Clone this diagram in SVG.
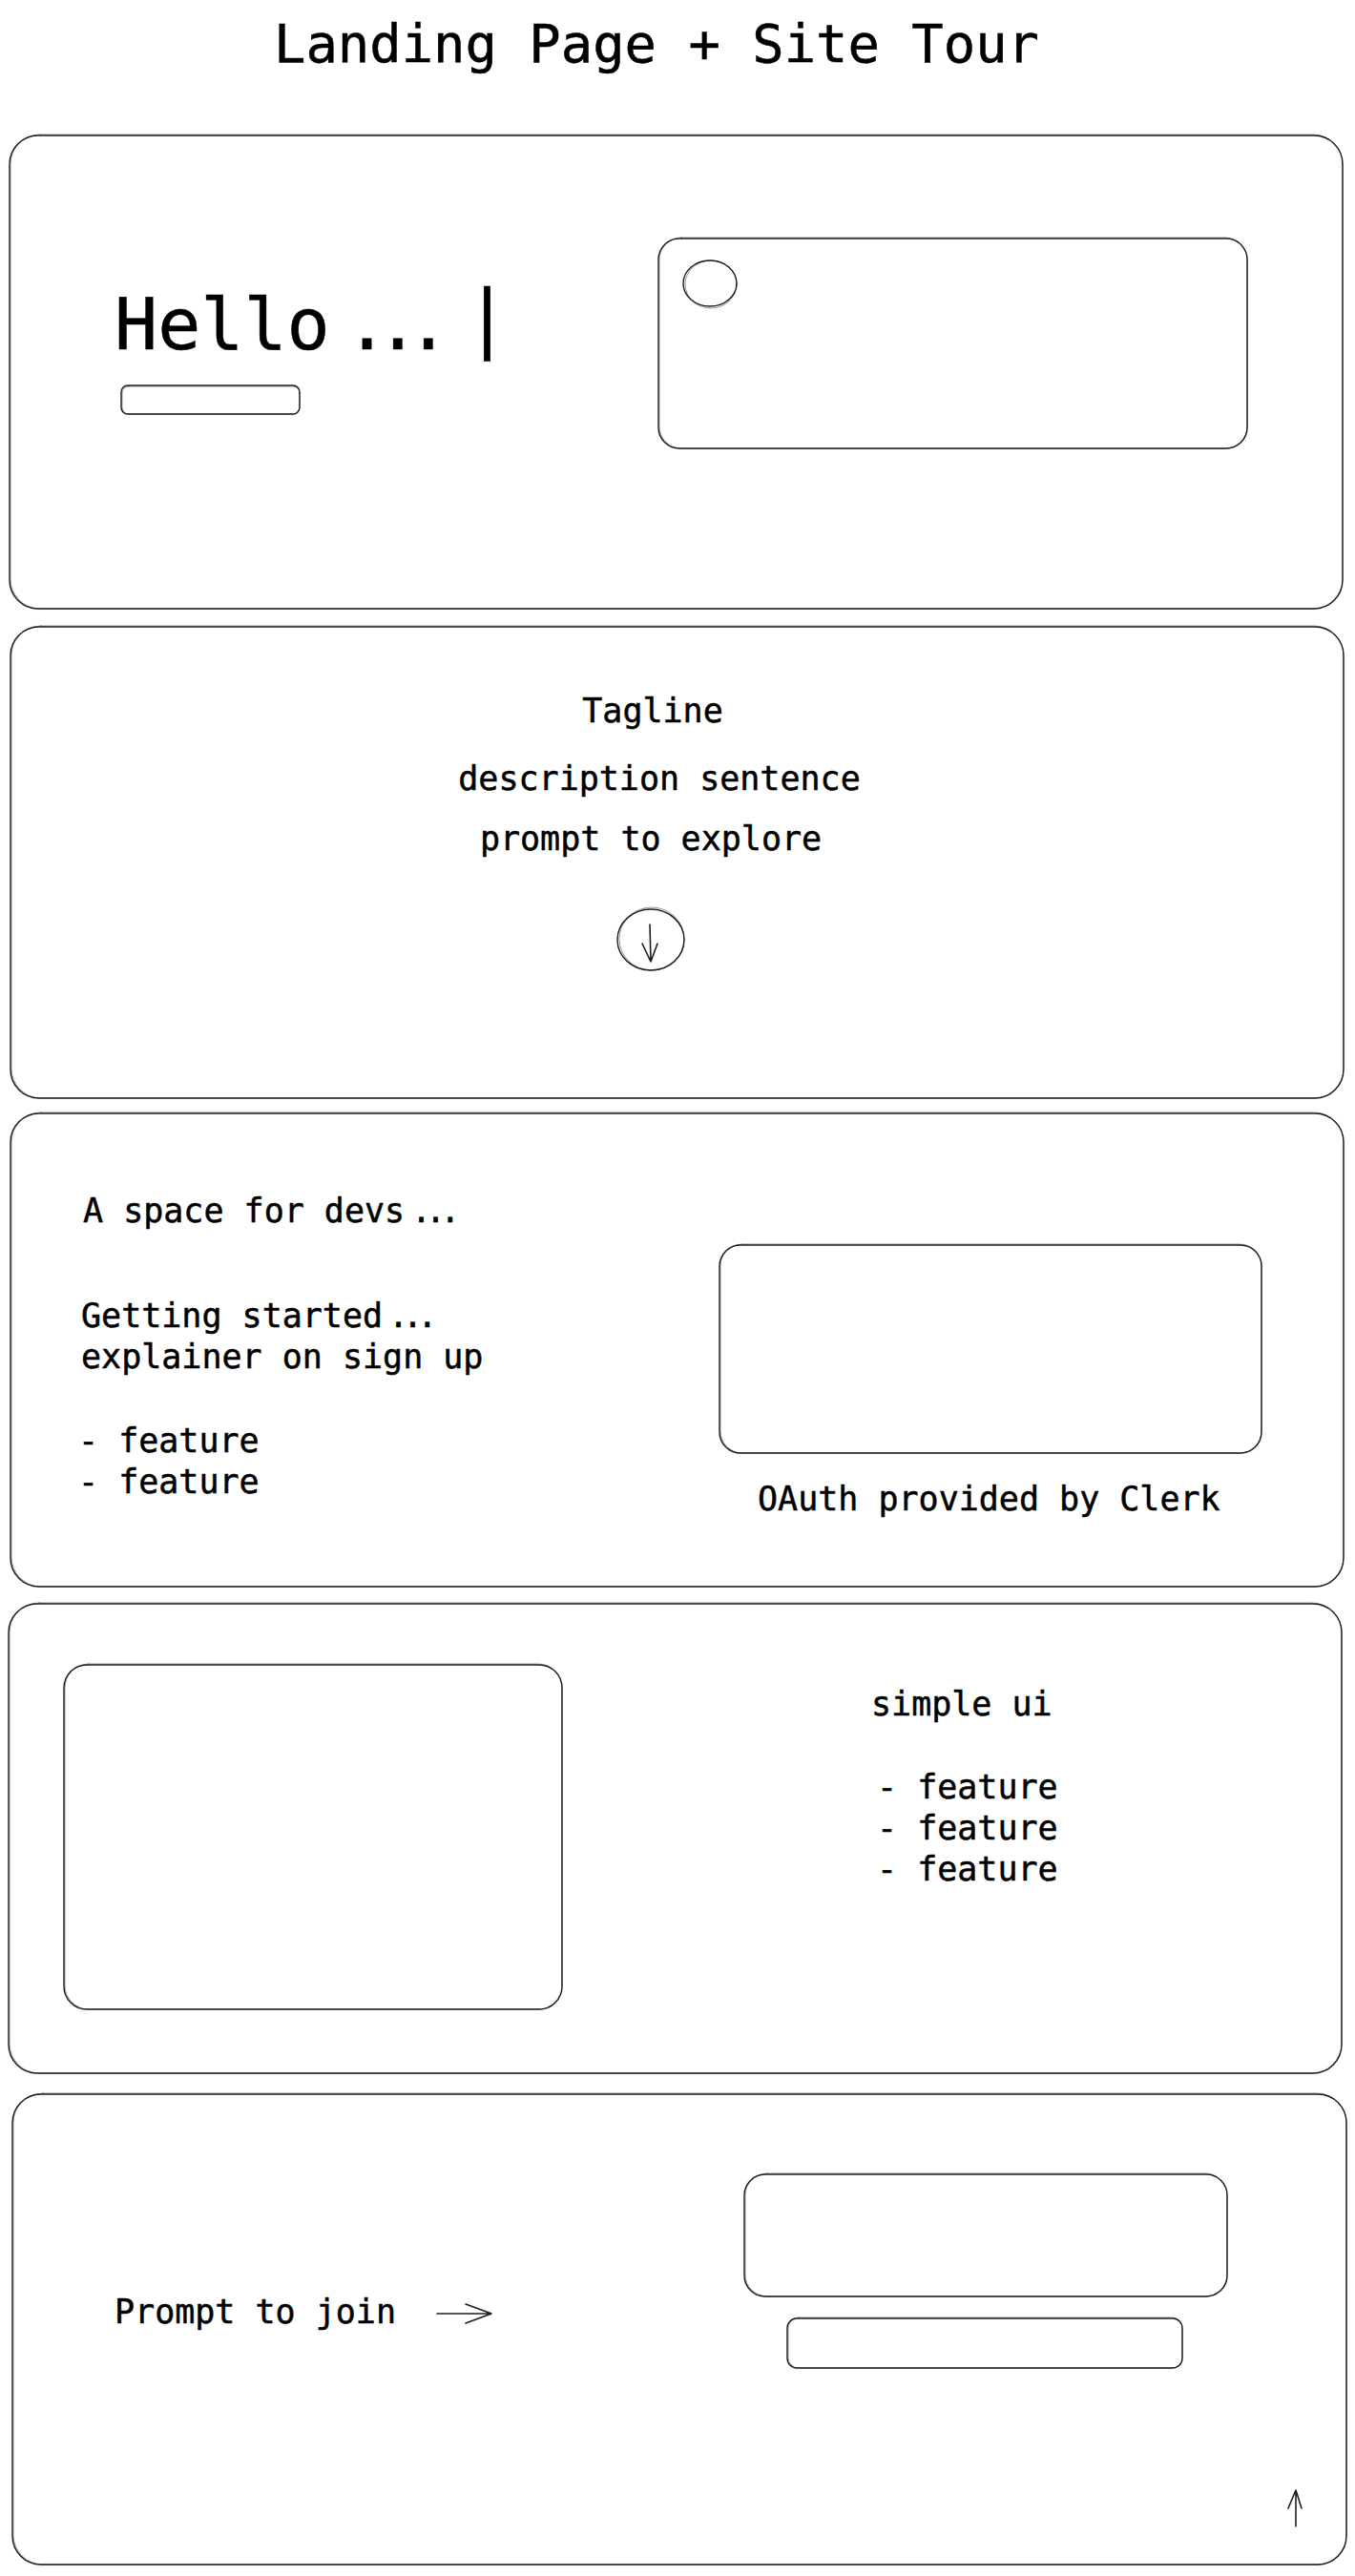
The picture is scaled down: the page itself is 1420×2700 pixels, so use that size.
<svg xmlns="http://www.w3.org/2000/svg" width="1420" height="2700" viewBox="0 0 1420 2700">
<style>
  .bg{fill:#ffffff}
  .sk{fill:none;stroke:#1e1e1e;stroke-width:1.4;stroke-linecap:round;stroke-linejoin:round}
  .sk2{fill:none;stroke:#1e1e1e;stroke-width:0.9;opacity:0.5;stroke-linecap:round}
  .t{font-family:"DejaVu Sans Mono","Liberation Mono",monospace;fill:#000000;stroke:#000000;stroke-width:0.5}
  .t35{font-size:35px}
  .ar{fill:none;stroke:#1e1e1e;stroke-width:1.6;stroke-linecap:round;stroke-linejoin:round}
</style>
<rect class="bg" x="0" y="0" width="1420" height="2700"/>

<g id="title">
  <text class="t" x="688" y="65" font-size="55.5" text-anchor="middle">Landing Page + Site Tour</text>
</g>

<!-- Panel 1: hero -->
<g id="panel-hero">
  <rect class="sk" x="10" y="142" width="1397" height="496" rx="30"/>
  <rect class="sk2" x="11" y="141" width="1396" height="497" rx="31"/>
  <g id="hero-text">
    <text class="t" x="120" y="366" font-size="75">Hello<tspan x="362" letter-spacing="-13">...</tspan></text>
    <text class="t" x="487" y="360" font-size="78">|</text>
  </g>
  <g id="hero-button">
    <rect class="sk" x="127" y="404" width="187" height="30" rx="7"/>
    <rect class="sk2" x="128" y="405" width="186" height="29" rx="7"/>
  </g>
  <g id="hero-image">
    <rect class="sk" x="690" y="250" width="617" height="220" rx="22"/>
    <rect class="sk2" x="691" y="249" width="616" height="221" rx="23"/>
    <ellipse class="sk" cx="744" cy="297" rx="28" ry="24"/>
    <ellipse class="sk2" cx="745" cy="298" rx="27" ry="25"/>
  </g>
</g>

<!-- Panel 2: tagline -->
<g id="panel-tagline">
  <rect class="sk" x="11" y="657" width="1397" height="494" rx="30"/>
  <rect class="sk2" x="12" y="656" width="1396" height="495" rx="31"/>
  <text class="t t35" x="684" y="757" text-anchor="middle">Tagline</text>
  <text class="t t35" x="691" y="828" text-anchor="middle">description sentence</text>
  <text class="t t35" x="682" y="891" text-anchor="middle">prompt to explore</text>
  <g id="scroll-button">
    <ellipse class="sk" cx="682" cy="985" rx="35" ry="32"/>
    <ellipse class="sk2" cx="683" cy="984" rx="34" ry="33"/>
  </g>
</g>

<!-- Panel 3: getting started -->
<g id="panel-getting-started">
  <rect class="sk" x="11" y="1167" width="1397" height="496" rx="30"/>
  <rect class="sk2" x="12" y="1166" width="1396" height="497" rx="31"/>
  <text class="t t35" x="87" y="1281">A space for devs<tspan x="431" letter-spacing="-6">...</tspan></text>
  <text class="t t35" x="85" y="1391">Getting started<tspan x="407" letter-spacing="-6">...</tspan></text>
  <text class="t t35" x="85" y="1434">explainer on sign up</text>
  <text class="t t35" x="82" y="1522">- feature</text>
  <text class="t t35" x="82" y="1565">- feature</text>
  <g id="oauth-box">
    <rect class="sk" x="754" y="1305" width="568" height="218" rx="22"/>
    <rect class="sk2" x="755" y="1304" width="567" height="219" rx="23"/>
  </g>
  <text class="t t35" x="794" y="1583">OAuth provided by Clerk</text>
</g>

<!-- Panel 4: simple ui -->
<g id="panel-simple-ui">
  <rect class="sk" x="9" y="1681" width="1397" height="492" rx="30"/>
  <rect class="sk2" x="10" y="1680" width="1396" height="493" rx="31"/>
  <g id="ui-screenshot">
    <rect class="sk" x="67" y="1745" width="522" height="361" rx="24"/>
    <rect class="sk2" x="68" y="1744" width="521" height="362" rx="25"/>
  </g>
  <text class="t t35" x="913" y="1798">simple ui</text>
  <text class="t t35" x="919" y="1885">- feature</text>
  <text class="t t35" x="919" y="1928">- feature</text>
  <text class="t t35" x="919" y="1971">- feature</text>
</g>

<!-- Panel 5: join -->
<g id="panel-join">
  <rect class="sk" x="13" y="2195" width="1398" height="493" rx="30"/>
  <rect class="sk2" x="14" y="2194" width="1397" height="494" rx="31"/>
  <text class="t t35" x="120" y="2435">Prompt to join</text>
  <g id="join-card">
    <rect class="sk" x="780" y="2279" width="506" height="128" rx="22"/>
    <rect class="sk2" x="781" y="2278" width="505" height="129" rx="23"/>
  </g>
  <g id="join-input">
    <rect class="sk" x="825" y="2430" width="414" height="52" rx="10"/>
    <rect class="sk2" x="826" y="2429" width="413" height="53" rx="11"/>
  </g>
</g>

<g id="connectors">
  <!-- down arrow inside scroll button -->
  <path class="ar" d="M681 969 L682 1008 M673 989 L682 1008 L689 989"/>
  <!-- right arrow after prompt to join -->
  <path class="ar" d="M458 2425 L515 2425 M488 2415 L515 2425 L488 2435"/>
  <!-- back to top arrow -->
  <path class="ar" d="M1358 2648 L1358 2610 M1350 2629 L1358 2610 L1364 2629"/>
</g>
</svg>
